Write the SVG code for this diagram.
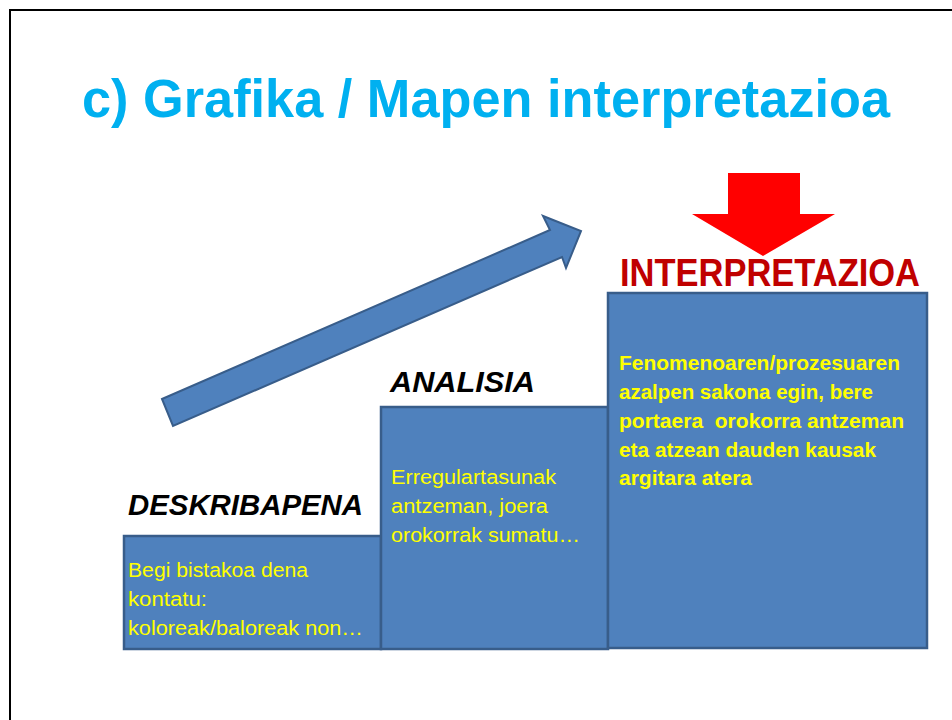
<svg xmlns="http://www.w3.org/2000/svg" width="952" height="720" viewBox="0 0 952 720">
<style>
.box{fill:#4F81BD;stroke:#385D8A;stroke-width:2.5}
.lbl{font-family:"Liberation Sans",Arial,sans-serif;font-weight:bold;font-style:italic;fill:#000}
.txt{font-family:"Liberation Sans",Arial,sans-serif;font-size:20px;fill:#FFFF00}
.btxt{font-family:"Liberation Sans",Arial,sans-serif;font-size:20px;font-weight:bold;fill:#FFFF00}
</style>
<rect x="0" y="0" width="952" height="720" fill="#fff"/>
<rect x="10" y="10" width="960" height="730" fill="none" stroke="#000" stroke-width="2"/>
<text x="82" y="117" font-family="Liberation Sans,Arial,sans-serif" font-weight="bold" font-size="53" fill="#00B0F0" textLength="808" lengthAdjust="spacingAndGlyphs">c) Grafika / Mapen interpretazioa</text>
<g id="connectors">
<polygon points="162,399 550,230 543,216 581,231 566,268 562,257 173,426" fill="#4F81BD" stroke="#385D8A" stroke-width="2" stroke-linejoin="miter"/>
<polygon points="728,173 800,173 800,214 835,214 763,256 692,214 728,214" fill="#FF0000"/>
</g>
<g id="deskribapena">
<rect class="box" x="124" y="536" width="257" height="113"/>
<text class="lbl" x="128" y="515" font-size="30" textLength="235" lengthAdjust="spacingAndGlyphs">DESKRIBAPENA</text>
<text class="txt" x="128" y="577" textLength="180" lengthAdjust="spacingAndGlyphs">Begi bistakoa dena</text>
<text class="txt" x="128" y="606" textLength="79" lengthAdjust="spacingAndGlyphs">kontatu:</text>
<text class="txt" x="128" y="635" textLength="235" lengthAdjust="spacingAndGlyphs">koloreak/baloreak non…</text>
</g>
<g id="analisia">
<rect class="box" x="381" y="407" width="227" height="242"/>
<text class="lbl" x="390" y="392" font-size="29" textLength="145" lengthAdjust="spacingAndGlyphs">ANALISIA</text>
<text class="txt" x="391" y="484" textLength="165" lengthAdjust="spacingAndGlyphs">Erregulartasunak</text>
<text class="txt" x="391" y="513" textLength="157" lengthAdjust="spacingAndGlyphs">antzeman, joera</text>
<text class="txt" x="391" y="542" textLength="189" lengthAdjust="spacingAndGlyphs">orokorrak sumatu…</text>
</g>
<g id="interpretazioa">
<rect class="box" x="608" y="293" width="319" height="355"/>
<text x="620" y="286" font-family="Liberation Sans,Arial,sans-serif" font-weight="bold" font-size="38" fill="#C00000" textLength="300" lengthAdjust="spacingAndGlyphs">INTERPRETAZIOA</text>
<text class="btxt" x="619" y="370" textLength="281" lengthAdjust="spacingAndGlyphs">Fenomenoaren/prozesuaren</text>
<text class="btxt" x="619" y="399" textLength="254" lengthAdjust="spacingAndGlyphs">azalpen sakona egin, bere</text>
<text class="btxt" x="619" y="428" textLength="285" lengthAdjust="spacingAndGlyphs" xml:space="preserve">portaera  orokorra antzeman</text>
<text class="btxt" x="619" y="457" textLength="257" lengthAdjust="spacingAndGlyphs">eta atzean dauden kausak</text>
<text class="btxt" x="619" y="485" textLength="133" lengthAdjust="spacingAndGlyphs">argitara atera</text>
</g>
</svg>
